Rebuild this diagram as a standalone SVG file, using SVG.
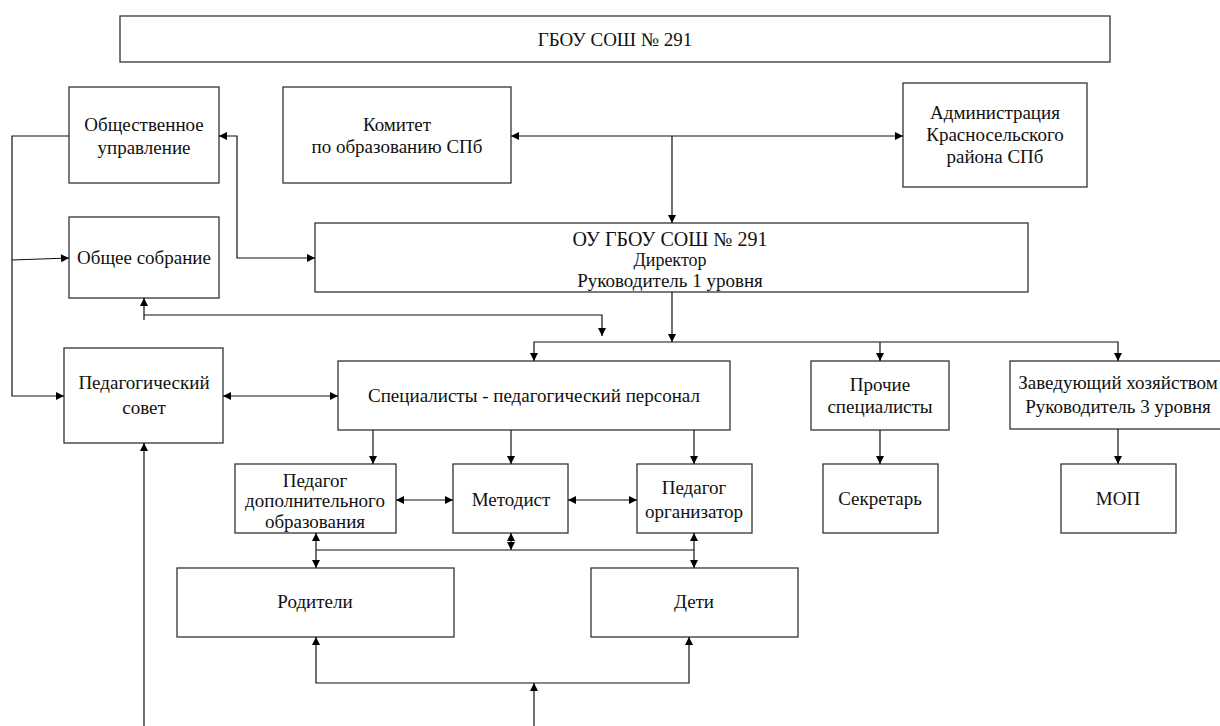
<svg xmlns="http://www.w3.org/2000/svg" width="1220" height="726" viewBox="0 0 1220 726" font-family="'Liberation Serif','DejaVu Serif',serif">
<style>
rect.b{fill:#fff;stroke:#333;stroke-width:1.3}
text{font-family:'Liberation Serif','DejaVu Serif',serif;font-size:19px;fill:#111;text-anchor:middle}
.c path,.c line,.c polyline{fill:none;stroke:#111;stroke-width:1.2}
</style>
<defs>
<marker id="a" viewBox="0 0 10 10" refX="10" refY="5" markerUnits="userSpaceOnUse" markerWidth="10" markerHeight="8" orient="auto-start-reverse"><path d="M0,0 L10,5 L0,10 z" fill="#000"/></marker>
</defs>
<rect width="1220" height="726" fill="#fff"/>
<g id="n-top"><rect class="b" x="120" y="16" width="990" height="46"/><text x="615" y="46">ГБОУ СОШ № 291</text></g>
<g id="n-obsh-upr"><rect class="b" x="69" y="87" width="150" height="96"/><text x="144" y="131">Общественное</text><text x="144" y="154">управление</text></g>
<g id="n-komitet"><rect class="b" x="283" y="87" width="228" height="96"/><text x="397" y="131">Комитет</text><text x="397" y="153">по образованию СПб</text></g>
<g id="n-admin"><rect class="b" x="903" y="83" width="184" height="104"/><text x="995" y="119">Администрация</text><text x="995" y="141">Красносельского</text><text x="995" y="163">района СПб</text></g>
<g id="n-director"><rect class="b" x="315" y="223" width="713" height="69"/><text x="670" y="246" style="font-size:20px">ОУ ГБОУ СОШ № 291</text><text x="670" y="266" style="font-size:18px">Директор</text><text x="670" y="287">Руководитель 1 уровня</text></g>
<g id="n-sobranie"><rect class="b" x="69" y="217" width="150" height="81"/><text x="144" y="264">Общее собрание</text></g>
<g id="n-pedsovet"><rect class="b" x="64" y="348" width="159" height="95"/><text x="144" y="389">Педагогический</text><text x="144" y="414">совет</text></g>
<g id="n-spec"><rect class="b" x="338" y="361" width="392" height="69"/><text x="534" y="402">Специалисты - педагогический персонал</text></g>
<g id="n-prochie"><rect class="b" x="811" y="361" width="138" height="69"/><text x="880" y="391">Прочие</text><text x="880" y="413">специалисты</text></g>
<g id="n-zavhoz"><rect class="b" x="1010" y="361" width="216" height="68"/><text x="1118" y="389">Заведующий хозяйством</text><text x="1118" y="413">Руководитель 3 уровня</text></g>
<g id="n-peddop"><rect class="b" x="235" y="464" width="161" height="69"/><text x="315" y="487">Педагог</text><text x="315" y="507">дополнительного</text><text x="315" y="528">образования</text></g>
<g id="n-metodist"><rect class="b" x="453" y="464" width="115" height="69"/><text x="511" y="506">Методист</text></g>
<g id="n-pedorg"><rect class="b" x="637" y="464" width="115" height="69"/><text x="694" y="494">Педагог</text><text x="694" y="518">организатор</text></g>
<g id="n-sekretar"><rect class="b" x="823" y="464" width="115" height="69"/><text x="880" y="505">Секретарь</text></g>
<g id="n-mop"><rect class="b" x="1061" y="464" width="115" height="69"/><text x="1118" y="505">МОП</text></g>
<g id="n-roditeli"><rect class="b" x="177" y="568" width="277" height="69"/><text x="315" y="608">Родители</text></g>
<g id="n-deti"><rect class="b" x="591" y="568" width="207" height="69"/><text x="694" y="608">Дети</text></g>
<g id="connectors" class="c">
<polyline points="69,136 12,136 12,396 64,396" marker-end="url(#a)"/>
<line x1="12" y1="260" x2="69" y2="258" marker-end="url(#a)"/>
<polyline points="219,136 237,136 237,258 315,258" marker-start="url(#a)" marker-end="url(#a)"/>
<line x1="511" y1="136" x2="903" y2="136" marker-start="url(#a)" marker-end="url(#a)"/>
<line x1="672" y1="136" x2="672" y2="223" marker-end="url(#a)"/>
<line x1="672" y1="292" x2="672" y2="342" marker-end="url(#a)"/>
<polyline points="534,361 534,342 1118,342 1118,361" marker-start="url(#a)" marker-end="url(#a)"/>
<line x1="880" y1="342" x2="880" y2="361" marker-end="url(#a)"/>
<line x1="144" y1="320" x2="144" y2="298" marker-end="url(#a)"/>
<polyline points="144,315 602,315 602,336" marker-end="url(#a)"/>
<line x1="223" y1="396" x2="338" y2="396" marker-start="url(#a)" marker-end="url(#a)"/>
<line x1="144" y1="726" x2="144" y2="443" marker-end="url(#a)"/>
<line x1="373" y1="430" x2="373" y2="464" marker-end="url(#a)"/>
<line x1="511" y1="430" x2="511" y2="464" marker-end="url(#a)"/>
<line x1="694" y1="430" x2="694" y2="464" marker-end="url(#a)"/>
<line x1="880" y1="430" x2="880" y2="464" marker-end="url(#a)"/>
<line x1="1118" y1="429" x2="1118" y2="464" marker-end="url(#a)"/>
<line x1="396" y1="500" x2="453" y2="500" marker-start="url(#a)" marker-end="url(#a)"/>
<line x1="568" y1="500" x2="637" y2="500" marker-start="url(#a)" marker-end="url(#a)"/>
<line x1="316" y1="550" x2="694" y2="550"/>
<line x1="316" y1="533" x2="316" y2="568" marker-start="url(#a)" marker-end="url(#a)"/>
<line x1="694" y1="533" x2="694" y2="568" marker-start="url(#a)" marker-end="url(#a)"/>
<line x1="511" y1="533" x2="511" y2="550" marker-start="url(#a)" marker-end="url(#a)"/>
<polyline points="316,637 316,683 689,683 689,637" marker-start="url(#a)" marker-end="url(#a)"/>
<line x1="534" y1="726" x2="534" y2="683" marker-end="url(#a)"/>
</g>
</svg>
